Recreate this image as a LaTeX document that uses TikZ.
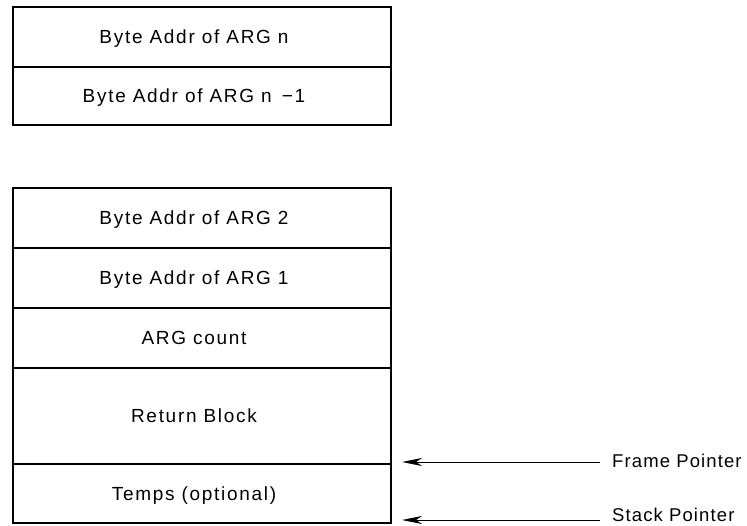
\documentclass[tikz,border=0pt]{standalone}
\usepackage{fontspec}
\setmainfont{Liberation Sans}[LetterSpace=9]
\usetikzlibrary{arrows.meta}
\begin{document}
\begin{tikzpicture}[x=1pt,y=1pt,
  cell/.style={draw,line width=1.2pt,minimum width=378pt,inner sep=0pt,outer sep=0pt,
    anchor=north west,font=\fontsize{19}{21}\selectfont,text depth=0pt,
    execute at begin node=\kern-16pt},
  frame/.style={draw,line width=2.2pt},
  ptr/.style={line width=1pt,-{Stealth[length=20pt,width=8pt,inset=6pt]}},
  plabel/.style={anchor=base west,inner sep=0pt,
    font=\fontsize{18.5}{20}\addfontfeature{LetterSpace=6}\selectfont}]
\useasboundingbox (0,0) rectangle (747,525);
% upper block: highest arguments
\node[cell,minimum height=60pt] (an)  at (13,518) {Byte Addr of ARG n};
\node[cell,minimum height=58pt] (an1) at (an.south west) {Byte Addr of ARG n \,−1};
\draw[frame] (an.north west) rectangle (an1.south east);
% lower block: the call frame
\node[cell,minimum height=60pt] (a2) at (13,337) {Byte Addr of ARG 2};
\node[cell,minimum height=60pt] (a1) at (a2.south west) {Byte Addr of ARG 1};
\node[cell,minimum height=60pt] (ac) at (a1.south west) {ARG count};
\node[cell,minimum height=96pt] (rb) at (ac.south west) {Return Block};
\node[cell,minimum height=59pt] (tp) at (rb.south west) {Temps (optional)};
\draw[frame] (a2.north west) rectangle (tp.south east);
% pointers
\node[plabel] (fp) at (612,58) {Frame Pointer};
\node[plabel] (sp) at (612,4) {Stack Pointer};
\coordinate (fpend) at (402,63);
\coordinate (spend) at (402,5);
\draw[ptr] (fp.west |- fpend) ++(-12pt,0) -- (fpend);
\draw[ptr] (sp.west |- spend) ++(-12pt,0) -- (spend);
\end{tikzpicture}
\end{document}
